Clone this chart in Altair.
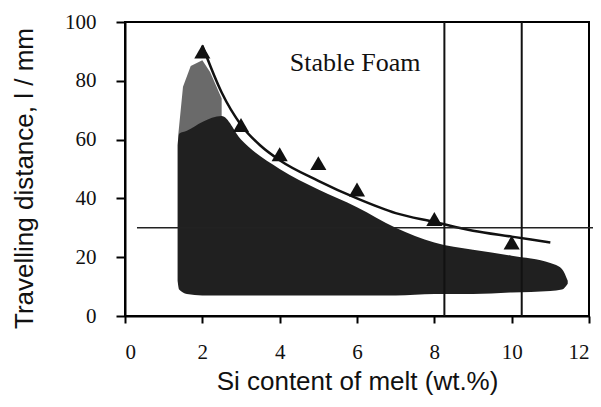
import altair as alt
import pandas as pd

# Triangles (measured data)
tri_x = [2, 3, 4, 5, 6, 8, 10]
tri_y = [90, 65, 55, 52, 43, 33, 25]

# Fitted curve
curve_x = [2, 2.5, 3, 3.5, 4, 5, 6, 7, 8, 9, 10, 11]
curve_y = [92, 76, 65, 58, 53, 46, 40, 35, 32, 29, 27, 25]

# Dark shaded region
dark_x = [1.36, 1.4, 1.6, 2.0, 2.5, 3, 4, 5, 6, 7, 8, 9, 10, 11, 11.3, 11.45]
dark_top = [58, 62, 63, 66, 68, 60, 50, 43, 37, 30, 25, 22.5, 20.5, 18, 16, 12]
dark_bot = [12, 9, 7.5, 7, 7, 7, 7, 7, 7, 7, 7.5, 7.5, 8, 8.5, 9, 11]

# Speckled upper part
spk_x = [1.38, 1.5, 1.7, 2.0, 2.2, 2.5]
spk_top = [62, 78, 85, 87, 83, 74]
spk_bot = [58, 58, 58, 60, 62, 62]

hline_x = [0.31, 12.25]
hline_y = [30, 30]
vline_x = [8.26, 10.26]

x_ticks = list(range(0, 13))
y_ticks = list(range(0, 101, 10))

SERIF = "Liberation Serif, Times New Roman, serif"
SANS = "Liberation Sans, Arial, sans-serif"

xs = alt.Scale(domain=[0, 12], nice=False, zero=False)
ys = alt.Scale(domain=[0, 100], nice=False, zero=False)

xaxis = alt.Axis(values=x_ticks, labelExpr="datum.value % 2 == 0 ? datum.label : ''",
                 title="Si content of melt (wt.%)", grid=False, tickSize=7, tickWidth=2,
                 domainWidth=2, domainColor="black", tickColor="black",
                 labelFont=SERIF, labelFontSize=21, labelColor="#111111",
                 labelPadding=18, titleFont=SANS, titleFontSize=26,
                 titleFontWeight="normal", titleColor="#111111", titlePadding=6)
yaxis = alt.Axis(values=y_ticks, labelExpr="datum.value % 20 == 0 ? datum.label : ''",
                 title="Travelling distance, l / mm", grid=False, tickSize=9, tickWidth=2,
                 domainWidth=2, domainColor="black", tickColor="black",
                 labelFont=SERIF, labelFontSize=21, labelColor="#111111",
                 labelPadding=20, titleFont=SANS, titleFontSize=26,
                 titleFontWeight="normal", titleColor="#111111", titlePadding=27,
                 titleY=156)

spk = alt.Chart(pd.DataFrame({"x": spk_x, "t": spk_top, "b": spk_bot})).mark_area(
    color="#5a5a5a", opacity=0.9).encode(
    x=alt.X("x:Q", scale=xs, axis=xaxis), y=alt.Y("t:Q", scale=ys, axis=yaxis), y2="b:Q")

dark = alt.Chart(pd.DataFrame({"x": dark_x, "t": dark_top, "b": dark_bot})).mark_area(
    color="#202020", interpolate="monotone").encode(
    x=alt.X("x:Q", scale=xs), y=alt.Y("t:Q", scale=ys), y2="b:Q")

curve = alt.Chart(pd.DataFrame({"x": curve_x, "y": curve_y})).mark_line(
    color="#111111", strokeWidth=2.5, interpolate="monotone").encode(
    x=alt.X("x:Q", scale=xs), y=alt.Y("y:Q", scale=ys))

tri = alt.Chart(pd.DataFrame({"x": tri_x, "y": tri_y})).mark_point(
    shape="triangle-up", filled=True, color="#111111", size=260, opacity=1).encode(
    x=alt.X("x:Q", scale=xs), y=alt.Y("y:Q", scale=ys))

hline = alt.Chart(pd.DataFrame({"x": hline_x, "y": hline_y})).mark_line(
    color="#222222", strokeWidth=1.5, clip=False).encode(
    x=alt.X("x:Q", scale=xs), y=alt.Y("y:Q", scale=ys))

vline = alt.Chart(pd.DataFrame({"x": vline_x})).mark_rule(
    color="#111111", strokeWidth=2).encode(
    x=alt.X("x:Q", scale=xs), y=alt.value(0), y2=alt.value(294))

label = alt.Chart(pd.DataFrame({"x": [5.95], "y": [86], "t": ["Stable Foam"]})).mark_text(
    font=SERIF, fontSize=26, color="#111111").encode(
    x=alt.X("x:Q", scale=xs), y=alt.Y("y:Q", scale=ys), text="t:N")

chart = alt.layer(spk, dark, curve, tri, hline, vline, label).properties(
    width=464, height=294,
    autosize=alt.AutoSizeParams(type="none"),
    padding={"left": 117, "top": 14, "right": 4, "bottom": 83},
    background="white",
).configure_view(stroke="black", strokeWidth=2)

chart.save("out.html", embed_options={"renderer": "svg", "actions": False})
